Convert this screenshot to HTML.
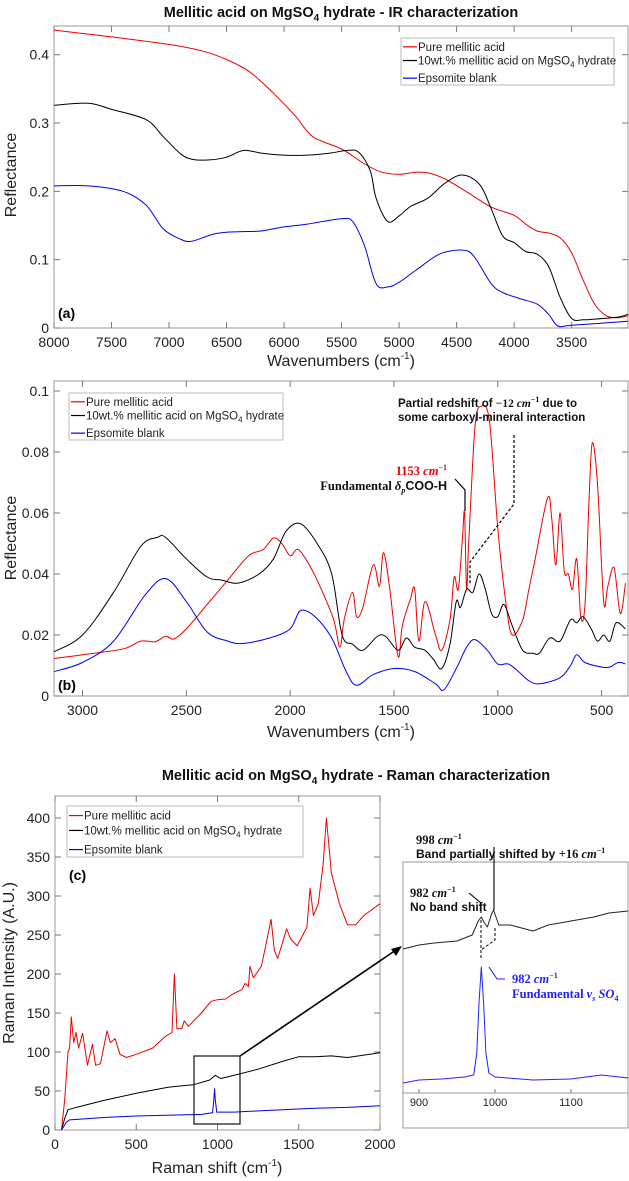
<!DOCTYPE html>
<html><head><meta charset="utf-8"><style>
html,body{margin:0;padding:0;background:#fff;}
svg{display:block;font-family:"Liberation Sans",sans-serif;}
.tk{font-size:14px;fill:#222;}
.lab{font-size:16px;fill:#222;}
.leg{font-size:11.5px;fill:#222;}
.ttl{font-size:14.5px;font-weight:bold;fill:#111;}
.ann{font-family:"Liberation Serif",serif;font-weight:bold;font-size:12.5px;}
</style></head><body>
<svg id="fig" width="629" height="1181" viewBox="0 0 629 1181" xmlns="http://www.w3.org/2000/svg">
<text class="ttl" x="341" y="17" text-anchor="middle">Mellitic acid on MgSO<tspan font-size="10" dy="4">4</tspan><tspan dy="-4"> hydrate - IR characterization</tspan></text>
<text class="ttl" x="356" y="780" text-anchor="middle">Mellitic acid on MgSO<tspan font-size="10" dy="4">4</tspan><tspan dy="-4"> hydrate - Raman characterization</tspan></text>
<g id="pa"></g>
<g id="pb"></g>
<g id="pc"></g>
<g id="pi"></g>
</svg>
<script>
// ---- Panel (a) data ----
const aRedX=[8000,7500,7000,6700,6500,6300,6100,5900,5750,5500,5300,5150,5000,4850,4750,4600,4400,4200,4000,3900,3800,3700,3600,3500,3400,3300,3200,3100,3010];
const aRedY=[0.436,0.426,0.415,0.405,0.393,0.375,0.345,0.31,0.28,0.262,0.24,0.228,0.225,0.228,0.227,0.218,0.198,0.177,0.165,0.152,0.142,0.139,0.132,0.11,0.07,0.035,0.018,0.015,0.018];
const aBlkX=[8000,7700,7500,7200,7050,6900,6800,6650,6500,6350,6200,6000,5800,5600,5450,5350,5250,5200,5100,5000,4900,4750,4600,4450,4300,4200,4100,4000,3900,3800,3700,3600,3500,3400,3300,3100,3010];
const aBlkY=[0.326,0.329,0.32,0.305,0.28,0.255,0.247,0.246,0.25,0.26,0.256,0.253,0.253,0.256,0.26,0.257,0.23,0.19,0.156,0.164,0.178,0.19,0.212,0.224,0.21,0.175,0.135,0.125,0.112,0.108,0.09,0.045,0.014,0.012,0.013,0.016,0.02];
const aBluX=[8000,7700,7400,7200,7050,6900,6800,6600,6400,6200,6000,5800,5500,5400,5300,5200,5100,5000,4850,4650,4450,4350,4200,4100,3950,3800,3700,3620,3500,3010];
const aBluY=[0.208,0.208,0.2,0.18,0.145,0.13,0.127,0.138,0.141,0.142,0.148,0.152,0.16,0.155,0.12,0.065,0.06,0.067,0.085,0.108,0.114,0.105,0.065,0.052,0.043,0.035,0.02,0.003,0.004,0.01];
const aXTicks=[8000,7500,7000,6500,6000,5500,5000,4500,4000,3500];
const aYTicks=[0,0.1,0.2,0.3,0.4];
// ---- Panel (b) data ----
const bRedX=[3137,3000,2800,2720,2650,2600,2560,2500,2400,2300,2200,2130,2080,2040,2000,1960,1900,1850,1790,1760,1740,1700,1680,1650,1600,1570,1550,1520,1480,1460,1420,1400,1380,1350,1300,1270,1230,1210,1190,1170,1160,1150,1140,1110,1080,1040,1000,960,930,880,850,820,760,740,720,700,680,660,640,620,600,580,560,545,520,490,470,440,410,385];
const bRedY=[0.0123,0.0135,0.0155,0.018,0.0178,0.0196,0.0187,0.022,0.03,0.038,0.046,0.048,0.0518,0.05,0.046,0.048,0.042,0.035,0.025,0.016,0.025,0.034,0.026,0.029,0.043,0.036,0.047,0.035,0.013,0.023,0.032,0.035,0.018,0.031,0.02,0.015,0.025,0.039,0.035,0.052,0.06,0.035,0.05,0.088,0.095,0.09,0.055,0.03,0.02,0.025,0.035,0.045,0.065,0.058,0.043,0.06,0.041,0.04,0.035,0.045,0.026,0.03,0.065,0.083,0.07,0.031,0.036,0.042,0.027,0.037];
const bBlkX=[3137,3000,2850,2720,2640,2600,2500,2400,2330,2250,2150,2080,2020,1950,1870,1800,1750,1700,1650,1580,1540,1480,1440,1400,1350,1310,1270,1230,1200,1180,1150,1120,1090,1060,1030,1000,970,930,880,830,800,750,700,650,620,590,550,520,490,460,430,385];
const bBlkY=[0.0145,0.02,0.034,0.049,0.052,0.052,0.045,0.039,0.038,0.037,0.04,0.045,0.054,0.0565,0.05,0.04,0.02,0.017,0.015,0.0195,0.0195,0.015,0.019,0.016,0.015,0.012,0.009,0.017,0.031,0.029,0.035,0.034,0.04,0.035,0.027,0.026,0.03,0.023,0.015,0.014,0.014,0.019,0.018,0.025,0.024,0.026,0.022,0.018,0.02,0.018,0.024,0.022];
const bBluX=[3137,3000,2850,2700,2600,2500,2400,2300,2230,2100,2000,1950,1880,1800,1730,1680,1600,1500,1400,1300,1260,1200,1150,1110,1050,1000,950,900,850,800,700,650,620,580,500,460,420,385];
const bBluY=[0.008,0.011,0.018,0.033,0.0385,0.031,0.021,0.018,0.0172,0.019,0.022,0.028,0.026,0.019,0.008,0.0035,0.007,0.009,0.008,0.004,0.002,0.009,0.016,0.0185,0.015,0.0105,0.0105,0.008,0.005,0.004,0.006,0.01,0.0135,0.011,0.0095,0.0095,0.011,0.0105];
const bXTicks=[3000,2500,2000,1500,1000,500];
const bYTicks=[0,0.02,0.04,0.06,0.08,0.1];
// ---- Panel (c) data ----
const cRedX=[40,60,80,90,100,115,130,145,170,200,230,250,280,320,340,370,400,440,500,600,680,720,735,750,780,795,820,900,960,1000,1050,1100,1150,1170,1190,1200,1220,1270,1300,1330,1350,1370,1400,1425,1450,1490,1520,1550,1570,1590,1620,1650,1670,1700,1750,1800,1850,1900,2000];
const cRedY=[0,40,100,105,145,112,125,105,124,83,110,83,85,127,112,117,97,93,97,105,120,125,200,130,130,140,133,150,165,167,168,175,180,188,184,210,195,210,240,270,230,220,240,258,245,236,248,260,310,275,290,340,400,330,290,263,263,275,290];
const cBlkX=[40,60,80,150,300,500,700,850,950,975,985,995,1020,1100,1250,1400,1500,1600,1700,1800,1900,2000];
const cBlkY=[0,15,26,30,38,47,55,58,64,68,70,69,66,70,78,88,94,94,95,93,96,99];
const cBluX=[40,70,90,300,500,900,970,978,982,986,995,1100,1300,1600,1800,2000];
const cBluY=[0,10,13,16,18,20,22,40,53,40,23,23,25,28,29,31];
const cXTicks=[0,500,1000,1500,2000];
const cYTicks=[0,50,100,150,200,250,300,350,400];
// ---- Inset data (arbitrary units) ----
const iBlkX=[879,900,920,950,970,978,982,986,990,995,998,1005,1020,1050,1070,1100,1130,1150,1175];
const iBlkY=[72,74,75,76,79,86,88,85,83,89,91.5,84,84,81,84,86,88,90,91];
const iBluX=[879,900,930,960,972,976,979,982,985,988,992,1000,1050,1100,1140,1175];
const iBluY=[5,6.5,7,8,9,20,45,63,45,20,10,8,6.5,7,9,7.5];
const iXTicks=[900,1000,1100];

const NS='http://www.w3.org/2000/svg';
function mk(parent,tag,attrs,text){const e=document.createElementNS(NS,tag);for(const k in attrs)e.setAttribute(k,attrs[k]);if(text!==undefined)e.textContent=text;parent.appendChild(e);return e;}
function scale(d0,d1,r0,r1){return v=>r0+(v-d0)/(d1-d0)*(r1-r0);}
function line(g,X,Y,sx,sy,color,name,smooth){
  const P=X.map((x,i)=>[sx(x),sy(Y[i])]);
  let d='M'+P[0][0].toFixed(1)+','+P[0][1].toFixed(1);
  for(let i=1;i<P.length;i++){
    if(smooth){const p0=P[Math.max(0,i-2)],p1=P[i-1],p2=P[i],p3=P[Math.min(P.length-1,i+1)];
      const c1=[p1[0]+(p2[0]-p0[0])/6,p1[1]+(p2[1]-p0[1])/6],c2=[p2[0]-(p3[0]-p1[0])/6,p2[1]-(p3[1]-p1[1])/6];
      d+='C'+c1[0].toFixed(1)+','+c1[1].toFixed(1)+' '+c2[0].toFixed(1)+','+c2[1].toFixed(1)+' '+p2[0].toFixed(1)+','+p2[1].toFixed(1);}
    else d+='L'+P[i][0].toFixed(1)+','+P[i][1].toFixed(1);}
  const p=mk(g,'path',{d:d,fill:'none',stroke:color,'stroke-width':1,'stroke-linejoin':'round'});
  
  
}
function axes(g,box,sx,sy,xt,yt,fmtx,fmty){
  const r=mk(g,'rect',{x:box.l,y:box.t,width:box.r-box.l,height:box.b-box.t,fill:'none',stroke:'#999','stroke-width':1});
  
  
  xt.forEach(v=>{const x=sx(v);
    mk(g,'line',{x1:x,x2:x,y1:box.b,y2:box.b-6,stroke:'#777'});
    mk(g,'line',{x1:x,x2:x,y1:box.t,y2:box.t+6,stroke:'#777'});
    const t=mk(g,'text',{class:'tk',x:x,y:box.b+19,'text-anchor':'middle'},fmtx(v));
    
    });
  yt.forEach(v=>{const y=sy(v);
    mk(g,'line',{x1:box.l,x2:box.l+6,y1:y,y2:y,stroke:'#777'});
    mk(g,'line',{x1:box.r,x2:box.r-6,y1:y,y2:y,stroke:'#777'});
    const t=mk(g,'text',{class:'tk',x:box.l-5,y:y+5,'text-anchor':'end'},fmty(v));
    
    });
}
function legend(g,x,y,w,h,items){
  const r=mk(g,'rect',{x:x,y:y,width:w,height:h,fill:'#fff',stroke:'#bbb'});
  
  
  items.forEach((it,i)=>{const yy=y+[9,23,41][i]*h/48;
    mk(g,'line',{x1:x+2,x2:x+16,y1:yy,y2:yy,stroke:it[1],'stroke-width':1.2});
    const t=mk(g,'text',{class:'leg',x:x+17,y:yy+4},'');
    t.innerHTML=it[0];
    
    });
}
const LEG=[['Pure mellitic acid','#e00'],['10wt.% mellitic acid on MgSO<tspan font-size="8" dy="3">4</tspan><tspan dy="-3"> hydrate</tspan>','#000'],['Epsomite blank','#00e']];
function ylabel(g,x,y,txt,name){const t=mk(g,'text',{class:'lab',x:x,y:y,'text-anchor':'middle',transform:'rotate(-90 '+x+' '+y+')'},txt);}
function xlabel(g,x,y,name){const t=mk(g,'text',{class:'lab',x:x,y:y,'text-anchor':'middle'},'');t.innerHTML='<tspan>'+name[0]+' (cm</tspan><tspan font-size="10" dy="-7">-1</tspan><tspan dy="7">)</tspan>';}
const f2=v=>v===0?'0':String(+v.toFixed(2));

// Panel a
(function(){const g=document.getElementById('pa');const box={l:54,r:628,t:26,b:328};
const sx=scale(8000,3010,54,628),sy=scale(0,0.442,328,26);
axes(g,box,sx,sy,aXTicks,aYTicks,String,f2);
line(g,aRedX,aRedY,sx,sy,'#e00','series-pure-mellitic',true);
line(g,aBlkX,aBlkY,sx,sy,'#000','series-10wt-mellitic',true);
line(g,aBluX,aBluY,sx,sy,'#00e','series-epsomite',true);
legend(g,401,38,213,47,LEG);
const t=mk(g,'text',{x:58,y:318,'font-weight':'bold','font-size':14},'(a)');
ylabel(g,16,175,'Reflectance','y-axis-title-a');xlabel(g,341,366,['Wavenumbers','x-axis-title-a']);})();

// Panel b
(function(){const g=document.getElementById('pb');const box={l:54,r:628,t:381,b:696};
const sx=scale(3000,500,82.5,601.6),sy=scale(0,0.1,696,391);
axes(g,box,sx,sy,bXTicks,bYTicks,String,f2);
line(g,bRedX,bRedY,sx,sy,'#e00','series-pure-mellitic',true);
line(g,bBlkX,bBlkY,sx,sy,'#000','series-10wt-mellitic',true);
line(g,bBluX,bBluY,sx,sy,'#00e','series-epsomite',true);
legend(g,69,393,214,47,LEG);
const t=mk(g,'text',{x:58,y:690,'font-weight':'bold','font-size':14},'(b)');
ylabel(g,16,538,'Reflectance','y-axis-title-b');xlabel(g,341,737,['Wavenumbers','x-axis-title-b']);
const a=mk(g,'g',{});
a.innerHTML='<text x="398" y="407" font-size="11.5" font-weight="bold" fill="#111">Partial redshift of <tspan font-family="Liberation Serif">−12 <tspan font-style="italic">cm</tspan><tspan font-size="8" dy="-5">−1</tspan></tspan><tspan dy="5"> due to</tspan></text><text x="398" y="421" font-size="11.5" font-weight="bold" fill="#111">some carboxyl-mineral interaction</text>'+
'<text class="ann" x="447" y="475" text-anchor="end" fill="#e00">1153 <tspan font-style="italic">cm</tspan><tspan font-size="8" dy="-5">−1</tspan></text>'+
'<text class="ann" x="447" y="490" text-anchor="end" fill="#111">Fundamental <tspan font-style="italic">δ</tspan><tspan font-size="8" font-style="italic" dy="3">p</tspan><tspan dy="-3" font-family="Liberation Sans">COO-H</tspan></text>'+
'<polyline points="455,479 465,490 465,511" fill="none" stroke="#000" stroke-width="1.2"/>'+
'<polyline points="514,435 514,504 470,562 470,585" fill="none" stroke="#000" stroke-width="1.2" stroke-dasharray="3,2"/>';})();

// Panel c
(function(){const g=document.getElementById('pc');const box={l:55,r:380,t:796,b:1130};
const sx=scale(0,2000,55,380),sy=scale(0,400,1130,818);
axes(g,box,sx,sy,cXTicks,cYTicks,String,String);
line(g,cRedX,cRedY,sx,sy,'#e00','series-pure-mellitic');
line(g,cBlkX,cBlkY,sx,sy,'#000','series-10wt-mellitic');
line(g,cBluX,cBluY,sx,sy,'#00e','series-epsomite');
legend(g,67,806,236,51,LEG);
const t=mk(g,'text',{x:69,y:880,'font-weight':'bold','font-size':14},'(c)');
ylabel(g,14,963,'Raman Intensity (A.U.)','y-axis-title-c');xlabel(g,217,1173,['Raman shift','x-axis-title-c']);
const z=mk(g,'rect',{x:194,y:1056,width:46,height:68,fill:'none',stroke:'#222','stroke-width':1.3});
const ar=mk(g,'g',{});
ar.innerHTML='<line x1="240" y1="1056" x2="396" y2="950" stroke="#000" stroke-width="1.6"/><polygon points="402,946 391,949 396,956" fill="#000"/>';})();

// Inset
(function(){const g=document.getElementById('pi');
const sx=scale(900,1100,419,571),sy=scale(0,100,1093,893);
const r=mk(g,'rect',{x:403,y:862,width:225,height:266,fill:'#fff',stroke:'#999'});
mk(g,'line',{x1:403,x2:628,y1:1093,y2:1093,stroke:'#999'});
iXTicks.forEach(v=>{const x=sx(v);mk(g,'line',{x1:x,x2:x,y1:1093,y2:1089,stroke:'#777'});
const t=mk(g,'text',{x:x,y:1106,'font-size':11,'text-anchor':'middle',fill:'#222'},String(v));});
line(g,iBlkX,iBlkY,sx,sy,'#222','inset-series-10wt-mellitic');
line(g,iBluX,iBluY,sx,sy,'#22f','inset-series-epsomite');
const a=mk(g,'g',{});
a.innerHTML='<text class="ann" x="416" y="844" fill="#111">998 <tspan font-style="italic">cm</tspan><tspan font-size="8" dy="-5">−1</tspan></text>'+
'<text x="416" y="858" font-size="12" font-weight="bold" fill="#111">Band partially shifted by <tspan font-family="Liberation Serif" font-size="12.5">+16 <tspan font-style="italic">cm</tspan><tspan font-size="8" dy="-5">−1</tspan></tspan></text>'+
'<text class="ann" x="410" y="897" fill="#111">982 <tspan font-style="italic">cm</tspan><tspan font-size="8" dy="-5">−1</tspan></text>'+
'<text x="410" y="911" font-size="12" font-weight="bold" fill="#111">No band shift</text>'+
'<polyline points="469,893 481,903 481,913" fill="none" stroke="#000" stroke-width="1.1"/>'+
'<line x1="494" y1="847" x2="494" y2="910" stroke="#000" stroke-width="1.1"/>'+
'<line x1="481" y1="920" x2="481" y2="960" stroke="#000" stroke-dasharray="3,2"/>'+
'<polyline points="495,928 495,940 481,950" fill="none" stroke="#000" stroke-dasharray="3,2"/>'+
'<polyline points="489,967 497,979 505,979" fill="none" stroke="#22f" stroke-width="1.1"/>'+
'<text class="ann" x="512" y="983" fill="#22f">982 <tspan font-style="italic">cm</tspan><tspan font-size="8" dy="-5">−1</tspan></text>'+
'<text class="ann" x="512" y="998" fill="#22f">Fundamental <tspan font-style="italic">v</tspan><tspan font-size="8" font-style="italic" dy="3">s</tspan><tspan dy="-3" font-style="italic"> SO</tspan><tspan font-size="8" dy="3">4</tspan></text>';})();
</script>
</body></html>
